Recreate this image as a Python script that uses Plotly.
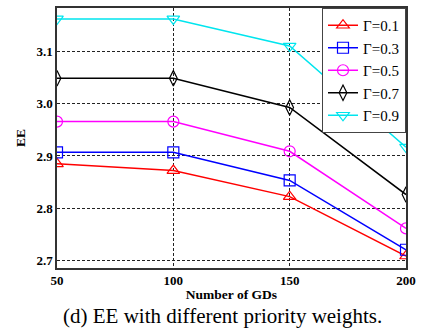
import plotly.graph_objects as go

gds = [50, 100, 150, 200]
labels = ["Γ=0.1", "Γ=0.3", "Γ=0.5", "Γ=0.7", "Γ=0.9"]
ee_01 = [2.885, 2.872, 2.822, 2.708]
ee_03 = [2.907, 2.907, 2.853, 2.720]
ee_05 = [2.966, 2.966, 2.909, 2.761]
ee_07 = [3.049, 3.049, 2.993, 2.826]
ee_09 = [3.163, 3.163, 3.111, 2.917]
series = [ee_01, ee_03, ee_05, ee_07, ee_09]
colors = ["#ff0000", "#0000ff", "#ff00ff", "#000000", "#00e5ee"]
symbols = ["triangle-up-open", "square-open", "circle-open", "diamond-tall-open", "triangle-down-open"]
yticks = [2.7, 2.8, 2.9, 3.0, 3.1]

serif = "Liberation Serif, Times New Roman, serif"

fig = go.Figure()
for lab, ys, c, s in zip(labels, series, colors, symbols):
    fig.add_trace(go.Scatter(
        x=gds, y=ys, name=lab, mode="lines+markers",
        line=dict(color=c, width=1.5),
        marker=dict(symbol=s, size=11, color=c, line=dict(width=1.2, color=c)),
    ))

fig.update_layout(
    width=422, height=333,
    margin=dict(l=57, r=13, t=6, b=65),
    paper_bgcolor="white", plot_bgcolor="white",
    font=dict(family=serif, color="black"),
    showlegend=True,
    legend=dict(
        x=1, y=1, xanchor="right", yanchor="top",
        bgcolor="white", bordercolor="#444444", borderwidth=1,
        font=dict(family=serif, size=15, color="black"),
        tracegroupgap=0, itemwidth=30,
    ),
    xaxis=dict(
        range=[50, 200], tickvals=gds, ticktext=[str(v) for v in gds],
        showgrid=True, gridcolor="#222222", griddash="3px,2px", gridwidth=0.8,
        showline=True, linecolor="#333333", linewidth=1.5, mirror=True,
        ticks="", zeroline=False,
        tickfont=dict(family=serif, size=13, color="black", weight="bold"),
        title=dict(text="<b>Number of GDs</b>", font=dict(family=serif, size=13.5), standoff=2),
    ),
    yaxis=dict(
        range=[2.685, 3.184], tickvals=yticks, ticktext=["%.1f" % v for v in yticks],
        showgrid=True, gridcolor="#222222", griddash="3px,2px", gridwidth=0.8,
        showline=True, linecolor="#333333", linewidth=1.5, mirror=True,
        ticks="", zeroline=False,
        tickfont=dict(family=serif, size=13, color="black", weight="bold"),
        title=dict(text="<b>EE</b>", font=dict(family=serif, size=13.5), standoff=8),
    ),
)

fig.add_annotation(
    text="(d) EE with different priority weights.",
    xref="paper", yref="paper", x=0.474, y=0, yshift=-34, xanchor="center", yanchor="top",
    showarrow=False, font=dict(family=serif, size=21, color="black"),
)

fig.write_html("out.html")
